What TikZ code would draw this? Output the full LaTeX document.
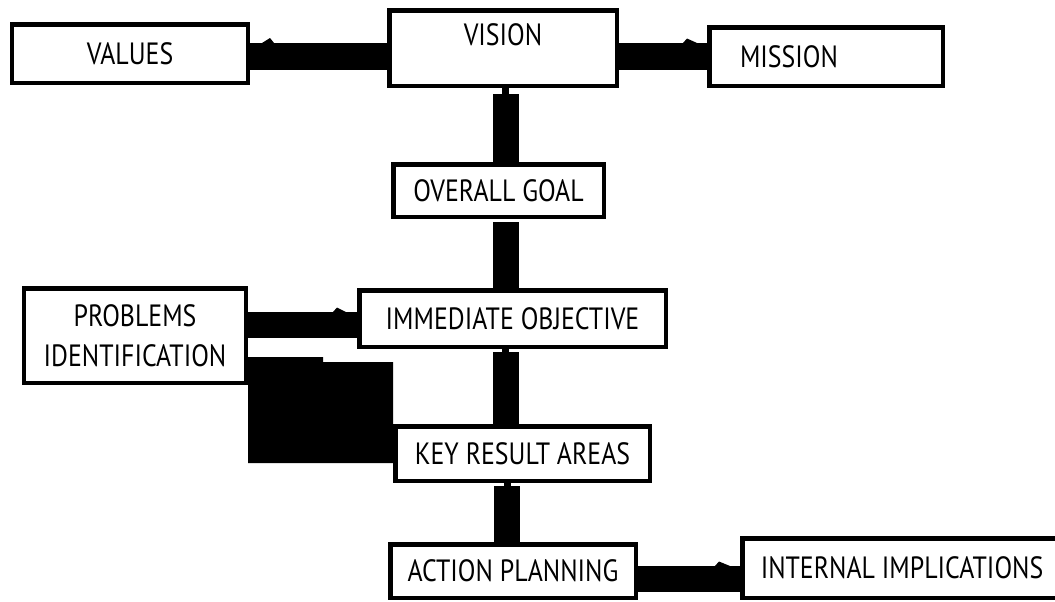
\documentclass[tikz,border=0pt]{standalone}
\usepackage{fontspec}
\setmainfont[FakeStretch=0.84]{PT Sans}
\usetikzlibrary{positioning,calc}
\tikzset{
  blok/.style={rectangle,draw=black,fill=white,line width=0.9mm,inner sep=0pt,
    font=\fontsize{17.5}{23}\selectfont},
  pas/.style={line width=5.2mm},
  pasH/.style={line width=5.4mm},
  stub/.style={line width=1.4mm},
  hrot/.style={fill=black},
}

\begin{document}
\begin{tikzpicture}[x=0.2mm,y=-0.2mm]
  \useasboundingbox (0,0) rectangle (1055,601);
  % bloky
  \node[blok,minimum width=47.1mm,minimum height=11.7mm] (values) at (130,53.5) {VALUES};
  \node[blok,minimum width=45.5mm,minimum height=15.1mm,text depth=5.2mm] (vision) at (503,48) {VISION};
  \node[blok,minimum width=46.7mm,minimum height=11.7mm] (mission) at (826,56.5) {MISSION\kern14.8mm};
  \node[blok,minimum width=42.1mm,minimum height=10.5mm] (goal) at (498.5,190.5) {OVERALL GOAL};
  \node[blok,minimum width=61.3mm,minimum height=11.3mm] (objective) at (512.5,318.5) {IMMEDIATE OBJECTIVE};
  \node[blok,minimum width=44.3mm,minimum height=18.9mm,align=center] (problems) at (135,335.5) {PROBLEMS\\IDENTIFICATION};
  \node[blok,minimum width=50.9mm,minimum height=10.9mm] (kra) at (522.5,453.5) {KEY RESULT AREAS};
  \node[blok,minimum width=49.1mm,minimum height=10.7mm] (action) at (513,571) {ACTION PLANNING};
  \node[blok,minimum width=63.9mm,minimum height=11.9mm] (internal) at (902,568) {INTERNAL IMPLICATIONS};
  % horny rad
  \draw[pasH] (vision.west |- 0,56.5) -- (values.east |- 0,56.5);
  \fill[hrot] (262,43) -- (270,38) -- (274,43) -- cycle;
  \draw[pasH] (vision.east |- 0,56.5) -- (mission.west |- 0,56.5);
  \fill[hrot] (683,43) -- (687,38.5) -- (697,43) -- cycle;
  % os
  \draw[stub] (505.5,0 |- vision.south) -- (505.5,0 |- goal.north);
  \draw[pas,shorten <=1.2mm] (505.5,0 |- vision.south) -- (505.5,0 |- goal.north);
  \draw[pas,shorten <=0.6mm] (505.5,0 |- goal.south) -- (505.5,0 |- objective.north);
  \draw[stub] (505.5,0 |- objective.south) -- (505.5,0 |- kra.north);
  \draw[pas,shorten <=0.6mm] (505.5,0 |- objective.south) -- (505.5,0 |- kra.north);
  \draw[stub] (507,0 |- kra.south) -- (507,0 |- action.north);
  \draw[pas,shorten <=0.6mm] (507,0 |- kra.south) -- (507,0 |- action.north);
  % problemy
  \draw[pas] (problems.east |- 0,325) -- (objective.west |- 0,325);
  \fill[hrot] (333,312) -- (337,307.5) -- (346,312) -- cycle;
  \fill (problems.east |- 0,357) -- (323,357) -- (323,362) -- (kra.west |- 0,362)
    -- (kra.west |- 0,463) -- (problems.east |- 0,463) -- cycle;
  % dolny rad
  \draw[pas] (action.east |- 0,579) -- (internal.west |- 0,579);
  \fill[hrot] (715,566) -- (719,561.5) -- (730,566) -- cycle;
\end{tikzpicture}
\end{document}
